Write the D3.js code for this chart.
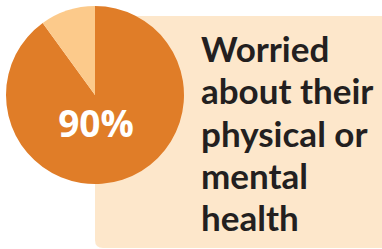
<!DOCTYPE html>
<html>
<head>
<meta charset="utf-8">
<script src="https://cdn.jsdelivr.net/npm/d3@7"></script>
<style>
  body { margin: 0; background: #fff; }
  svg { display: block; }
</style>
</head>
<body>
<svg id="chart" width="382" height="249"></svg>
<script>
// data
var sliceLabels = ["Worried", "Not worried"];
var sliceValues = [90, 10];
var sliceColors = ["#e07d28", "#fcca8b"];
var valueLabel = "90%";
var captionLines = ["Worried", "about their", "physical or", "mental", "health"];

var svg = d3.select("#chart");
var cx = 95, cy = 95, radius = 89;

// backing panel
svg.append("path")
    .attr("fill", "#fde7cb")
    .attr("d", function() {
        var x0 = 95, y0 = 16, x1 = 382, y1 = 248, r = 8;
        return "M" + x0 + "," + y0 + "H" + x1 + "V" + y1 + "H" + (x0 + r) +
            "Q" + x0 + "," + y1 + " " + x0 + "," + (y1 - r) + "Z";
    });

// pie, small slice sits just left of 12 o'clock
var pie = d3.pie().sort(null)
    .startAngle(0).endAngle(2 * Math.PI);
var arc = d3.arc().innerRadius(0).outerRadius(radius);

var g = svg.append("g").attr("transform", "translate(" + cx + "," + cy + ")");
g.selectAll("path")
    .data(pie(sliceValues))
    .enter().append("path")
    .attr("d", arc)
    .attr("fill", function(d, i) { return sliceColors[i]; });

g.append("text")
    .attr("x", 1)
    .attr("y", 42)
    .attr("text-anchor", "middle")
    .attr("fill", "#fff")
    .style("font-family", "'Open Sans', sans-serif")
    .style("font-weight", 700)
    .style("font-size", "37px")
    .text(valueLabel);

// caption
var cap = svg.append("g").selectAll("text")
    .data(captionLines)
    .enter().append("text")
    .attr("x", 201)
    .attr("y", function(d, i) { return 62 + i * 42.3; })
    .attr("fill", "#231f20")
    .style("font-family", "Lato, sans-serif")
    .style("font-weight", 700)
    .style("font-size", "35px")
    .text(function(d) { return d; });

// keep the widest line inside the panel
var widest = d3.max(cap.nodes(), function(n) { return n.getComputedTextLength(); });
if (widest > 174) cap.style("font-size", (35 * 174 / widest) + "px");
</script>
</body>
</html>
